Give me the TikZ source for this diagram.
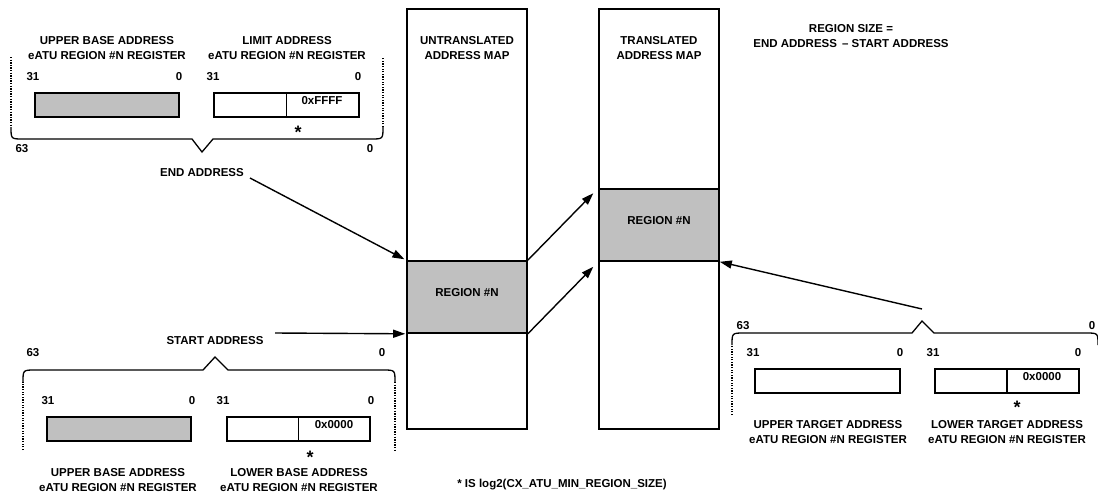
\documentclass[tikz,border=0pt]{standalone}
\usepackage{fontspec}
\setmainfont{Liberation Sans}
\usetikzlibrary{arrows.meta}
\definecolor{regiongray}{RGB}{192,192,192}
\begin{document}
\begin{tikzpicture}[x=1pt,y=-1pt,
  every node/.style={font=\fontsize{11.5}{15}\selectfont\bfseries, inner sep=0pt},
  mapbox/.style={draw, line width=1.6pt, minimum width=120pt, minimum height=420pt},
  regionbox/.style={draw, line width=1.6pt, fill=regiongray, minimum width=120pt, minimum height=72pt},
  regbox/.style={draw, line width=1.5pt, minimum height=24pt},
  brace/.style={line width=1.3pt},
  dots/.style={line width=1.3pt, dash pattern=on 1.3pt off 1.3pt},
  arr/.style={line width=1.4pt, -{Triangle[length=12pt,width=8pt]}},
  lbl/.style={align=center},
  star/.style={font=\fontsize{18}{18}\selectfont\bfseries}]
\useasboundingbox (0,0) rectangle (1098,496);
\clip (0,0) rectangle (1098,496);

% address maps
\node[mapbox] (umap) at (467,219) {};
\node[mapbox] (tmap) at (659,219) {};
\node[regionbox] (ureg) at (467,297) {};
\node[regionbox] (treg) at (659,225) {};
\node (uregl) at (467,293) {REGION \#N};
\node (tregl) at (659,221) {REGION \#N};
\node[lbl] (utitle) at (467,48.5) {UNTRANSLATED\\ADDRESS MAP};
\node[lbl] (ttitle) at (659,48.5) {TRANSLATED\\ADDRESS MAP};

\draw[arr, shorten >=7pt] (ureg.north east) -- (treg.north west);
\draw[arr, shorten >=7pt] (ureg.south east) -- (treg.south west);

% top-left : end address
\node[lbl] (ubtitle) at (107,48.5) {UPPER BASE ADDRESS\\eATU REGION \#N REGISTER};
\node[lbl] (latitle) at (287,48.5) {LIMIT ADDRESS\\eATU REGION \#N REGISTER};
\node (ta1) at (33,77) {31};
\node (ta2) at (179,77) {0};
\node (ta3) at (213,77) {31};
\node (ta4) at (358,77) {0};
\node[regbox, fill=regiongray, minimum width=144pt] (ubreg) at (107,105) {};
\node[regbox, minimum width=145pt] (lareg) at (286.5,105) {};
\draw[line width=1.5pt] (lareg.north) -- (lareg.south);
\node (laval) at (322,100.5) {0xFFFF};
\node[star] (laast) at (298,132) {*};
\draw[dots] (11,57) -- (11,127);
\draw[brace] (11,127) .. controls (11,139) .. (23,139) -- (192,139) -- (202,152) -- (213,139) -- (371,139) .. controls (383,139) .. (383,127);
\draw[dots] (383,127) -- (383,57);
\node (t63a) at (22,149) {63};
\node (t0a) at (370,149) {0};
\node (endlbl) at (202,173) {END ADDRESS};
\coordinate (endsrc) at (250,178);
\draw[arr, shorten >=2pt] (endsrc) -- (ureg.north west);

% bottom-left : start address
\node (startlbl) at (215,341) {START ADDRESS};
\coordinate (startsrc) at (275,333);
\draw[arr, shorten >=1pt] (startsrc) -- (ureg.south west);
\node (t63b) at (33,353) {63};
\node (t0b) at (382,353) {0};
\draw[dots] (23,450) -- (23,382);
\draw[brace] (23,382) .. controls (23,370) .. (35,370) -- (203,370) -- (215,357) -- (228,370) -- (383,370) .. controls (395,370) .. (395,382);
\draw[dots] (395,382) -- (395,450);
\node (tb1) at (48,401) {31};
\node (tb2) at (192,401) {0};
\node (tb3) at (223,401) {31};
\node (tb4) at (371,401) {0};
\node[regbox, fill=regiongray, minimum width=144pt] (ubbreg) at (119,429) {};
\node[regbox, minimum width=143pt] (lbreg) at (298.5,429) {};
\draw[line width=1.5pt] (lbreg.north) -- (lbreg.south);
\node (lbval) at (334,425) {0x0000};
\node[star] (lbast) at (310,457) {*};
\node[lbl] (ubbtitle) at (118,480) {UPPER BASE ADDRESS\\eATU REGION \#N REGISTER};
\node[lbl] (lbtitle) at (299,480) {LOWER BASE ADDRESS\\eATU REGION \#N REGISTER};

% bottom-right : target address
\draw[dots] (732,415) -- (732,345);
\draw[brace] (732,345) .. controls (732,333) .. (744,333) -- (912,333) -- (922,321) -- (934,333) -- (1086,333) .. controls (1098,333) .. (1098,345);
\node (t63c) at (743,326) {63};
\node (t0c) at (1092,326) {0};
\node (tc1) at (753,353) {31};
\node (tc2) at (900,353) {0};
\node (tc3) at (933,353) {31};
\node (tc4) at (1078,353) {0};
\node[regbox, minimum width=145pt] (utreg) at (827.5,381) {};
\node[regbox, minimum width=144pt] (ltreg) at (1007,381) {};
\draw[line width=1.5pt] (ltreg.north) -- (ltreg.south);
\node (ltval) at (1042,377) {0x0000};
\node[star] (ltast) at (1017,407) {*};
\node[lbl] (uttitle) at (828,432) {UPPER TARGET ADDRESS\\eATU REGION \#N REGISTER};
\node[lbl] (lttitle) at (1007,432) {LOWER TARGET ADDRESS\\eATU REGION \#N REGISTER};
\coordinate (tgtsrc) at (922,309);
\draw[arr] (tgtsrc) -- (treg.south east);

% notes
\node[lbl] (sizenote) at (851,36.5) {REGION SIZE =\\END ADDRESS\, – START ADDRESS};
\node (footnote) at (562,485) {* IS log2(CX\_ATU\_MIN\_REGION\_SIZE)};
\end{tikzpicture}
\end{document}
